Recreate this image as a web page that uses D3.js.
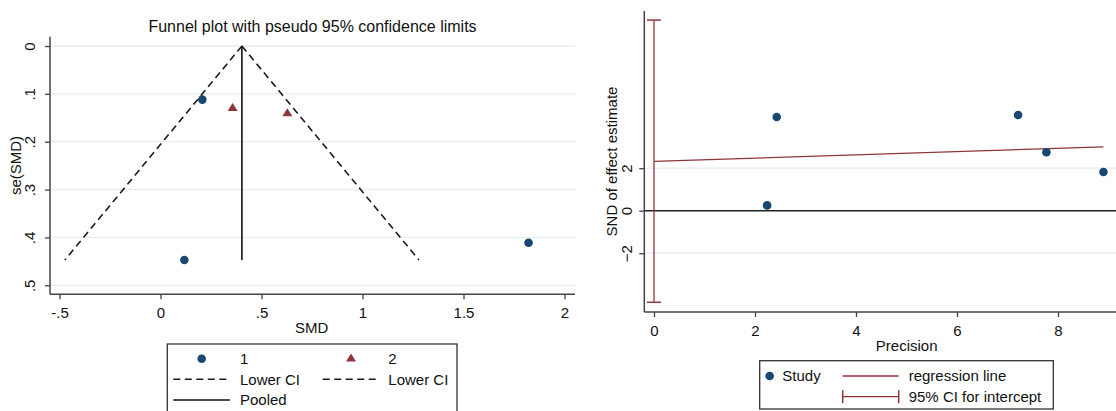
<!DOCTYPE html>
<html>
<head>
<meta charset="utf-8">
<script src="https://cdn.jsdelivr.net/npm/d3@7"></script>
<style>
  body { margin: 0; background: #fff; }
  svg text { font-family: "Liberation Sans", Arial, sans-serif; fill: #111; }
</style>
</head>
<body>
<div id="chart"></div>
<script>
// funnel plot data
const studyGroup = [1, 1, 1, 2, 2];
const studySMD = [0.207, 0.118, 1.822, 0.357, 0.628];
const studySE = [0.112, 0.447, 0.411, 0.130, 0.141];
const pooledSMD = 0.403;
const seMax = 0.447;

// egger plot data
const precision = [2.43, 2.24, 7.21, 7.77, 8.90];
const sndEffect = [4.41, 0.25, 4.50, 2.75, 1.82];
const regIntercept = 2.32;
const regSlope = 0.077;
const ciIntercept = [-4.31, 8.97];

// tick labels
const smdTicks = [-0.5, 0, 0.5, 1, 1.5, 2];
const smdLabels = ["-.5", "0", ".5", "1", "1.5", "2"];
const seTicks = [0, 0.1, 0.2, 0.3, 0.4, 0.5];
const seLabels = ["0", ".1", ".2", ".3", ".4", ".5"];
const precTicks = [0, 2, 4, 6, 8];
const sndTicks = [-2, 0, 2];

const navy = "#1a476f", maroon = "#90353b", grid = "#e3ecee", axisCol = "#444";

const W = 1116, H = 411;
const svg = d3.select("#chart").append("svg").attr("width", W).attr("height", H);

const tri = "M0,-5.3L5,2.7L-5,2.7Z";
const dash = "7,4.5";

/* ---------------- left: funnel plot ---------------- */
const L = { left: 50, right: 575, top: 36.7, bottom: 294.3 };
const x1 = d3.scaleLinear().domain([-0.5, 2]).range([59.5, 564.5]);
const y1 = d3.scaleLinear().domain([0, 0.5]).range([46, 285.3]);

const g1 = svg.append("g");

g1.selectAll(".grid").data(seTicks).join("line")
  .attr("x1", L.left).attr("x2", L.right)
  .attr("y1", d => y1(d)).attr("y2", d => y1(d))
  .attr("stroke", grid).attr("stroke-width", 1.3);

// pseudo 95% limits
const funnelL = [[pooledSMD, 0], [pooledSMD - 1.96 * seMax, seMax]];
const funnelR = [[pooledSMD, 0], [pooledSMD + 1.96 * seMax, seMax]];
const ln1 = d3.line().x(d => x1(d[0])).y(d => y1(d[1]));
[funnelL, funnelR].forEach(f => {
  g1.append("path").attr("d", ln1(f)).attr("fill", "none")
    .attr("stroke", "#1a1a1a").attr("stroke-width", 1.6).attr("stroke-dasharray", dash);
});
g1.append("path").attr("d", ln1([[pooledSMD, 0], [pooledSMD, seMax]]))
  .attr("stroke", "#111").attr("stroke-width", 1.6);

// markers
studySMD.forEach((v, i) => {
  if (studyGroup[i] === 1) {
    g1.append("circle").attr("cx", x1(v)).attr("cy", y1(studySE[i])).attr("r", 4.3).attr("fill", navy);
  } else {
    g1.append("path").attr("d", tri)
      .attr("transform", `translate(${x1(v)},${y1(studySE[i])})`).attr("fill", maroon);
  }
});

// axes
const ax1 = g1.append("g").attr("transform", `translate(0,${L.bottom})`)
  .call(d3.axisBottom(x1).tickValues(smdTicks).tickFormat((d, i) => smdLabels[i])
    .tickSize(5).tickSizeOuter(0).tickPadding(8.4));
const ay1 = g1.append("g").attr("transform", `translate(${L.left},0)`)
  .call(d3.axisLeft(y1).tickValues(seTicks).tickFormat((d, i) => seLabels[i])
    .tickSize(5).tickSizeOuter(0));
ay1.selectAll("text").attr("x", 0).attr("dy", 0).attr("text-anchor", "middle")
  .attr("transform", "translate(-15.5,0) rotate(-90)");
g1.append("line").attr("x1", L.left).attr("x2", L.right).attr("y1", L.bottom).attr("y2", L.bottom)
  .attr("stroke", axisCol).attr("stroke-width", 1.5);
g1.append("line").attr("x1", L.left).attr("x2", L.left).attr("y1", L.top).attr("y2", L.bottom)
  .attr("stroke", axisCol).attr("stroke-width", 1.5);

g1.append("text").attr("x", 312.5).attr("y", 31.5).attr("text-anchor", "middle")
  .style("font-size", "16px").text("Funnel plot with pseudo 95% confidence limits");
g1.append("text").attr("x", 311.7).attr("y", 333.3).attr("text-anchor", "middle")
  .style("font-size", "15px").text("SMD");
g1.append("text").attr("transform", `translate(21,${(L.top + L.bottom) / 2}) rotate(-90)`)
  .attr("text-anchor", "middle").style("font-size", "15px").text("se(SMD)");

// legend
const lg1 = g1.append("g");
lg1.append("rect").attr("x", 167.3).attr("y", 344).attr("width", 289.7).attr("height", 80)
  .attr("fill", "#fff").attr("stroke", "#333").attr("stroke-width", 1.3);
lg1.append("circle").attr("cx", 201.7).attr("cy", 358.7).attr("r", 4.3).attr("fill", navy);
lg1.append("path").attr("d", tri).attr("transform", "translate(351,358.7)").attr("fill", maroon);
lg1.append("line").attr("x1", 173.3).attr("x2", 230).attr("y1", 379.3).attr("y2", 379.3)
  .attr("stroke", "#1a1a1a").attr("stroke-width", 1.5).attr("stroke-dasharray", dash);
lg1.append("line").attr("x1", 322.7).attr("x2", 379.3).attr("y1", 379.3).attr("y2", 379.3)
  .attr("stroke", "#1a1a1a").attr("stroke-width", 1.5).attr("stroke-dasharray", dash);
lg1.append("line").attr("x1", 173.3).attr("x2", 230).attr("y1", 400).attr("y2", 400)
  .attr("stroke", "#111").attr("stroke-width", 1.5);
[["1", 240, 364], ["2", 388.3, 364], ["Lower CI", 240, 384.6], ["Lower CI", 388.3, 384.6], ["Pooled", 240, 405.3]]
  .forEach(t => lg1.append("text").attr("x", t[1]).attr("y", t[2]).style("font-size", "15px").text(t[0]));

/* ---------------- right: egger plot ---------------- */
const R = { left: 644.3, right: 1116, top: 11, bottom: 312 };
const x2 = d3.scaleLinear().domain([0, 8]).range([654, 1058]);
const y2 = d3.scaleLinear().domain([-2, 2]).range([253.2, 168.2]);

const g2 = svg.append("g");

g2.selectAll(".grid").data(sndTicks.filter(d => d !== 0)).join("line")
  .attr("x1", R.left).attr("x2", R.right)
  .attr("y1", d => y2(d)).attr("y2", d => y2(d))
  .attr("stroke", grid).attr("stroke-width", 1.3);

g2.append("line").attr("x1", R.left).attr("x2", R.right).attr("y1", y2(0)).attr("y2", y2(0))
  .attr("stroke", "#222").attr("stroke-width", 1.6);

// regression line
const pMax = d3.max(precision);
g2.append("line").attr("x1", x2(0)).attr("x2", x2(pMax))
  .attr("y1", y2(regIntercept)).attr("y2", y2(regIntercept + regSlope * pMax))
  .attr("stroke", maroon).attr("stroke-width", 1.3);

// CI for intercept
g2.append("line").attr("x1", x2(0)).attr("x2", x2(0))
  .attr("y1", y2(ciIntercept[0])).attr("y2", y2(ciIntercept[1]))
  .attr("stroke", maroon).attr("stroke-width", 1.3);
ciIntercept.forEach(c => {
  g2.append("line").attr("x1", x2(0) - 7).attr("x2", x2(0) + 7)
    .attr("y1", y2(c)).attr("y2", y2(c)).attr("stroke", maroon).attr("stroke-width", 1.5);
});

g2.selectAll(".pt").data(precision).join("circle")
  .attr("cx", d => x2(d)).attr("cy", (d, i) => y2(sndEffect[i])).attr("r", 4.3).attr("fill", navy);

const ax2 = g2.append("g").attr("transform", `translate(0,${R.bottom})`)
  .call(d3.axisBottom(x2).tickValues(precTicks).tickFormat(d3.format("d"))
    .tickSize(5).tickSizeOuter(0).tickPadding(8.4));
const ay2 = g2.append("g").attr("transform", `translate(${R.left},0)`)
  .call(d3.axisLeft(y2).tickValues(sndTicks).tickFormat(d3.format("d"))
    .tickSize(5).tickSizeOuter(0));
ay2.selectAll("text").attr("x", 0).attr("dy", 0).attr("text-anchor", "middle")
  .attr("transform", "translate(-12,0) rotate(-90)");
g2.append("line").attr("x1", R.left).attr("x2", R.right).attr("y1", R.bottom).attr("y2", R.bottom)
  .attr("stroke", axisCol).attr("stroke-width", 1.5);
g2.append("line").attr("x1", R.left).attr("x2", R.left).attr("y1", R.top).attr("y2", R.bottom)
  .attr("stroke", axisCol).attr("stroke-width", 1.5);

g2.append("text").attr("x", 906.7).attr("y", 350.7).attr("text-anchor", "middle")
  .style("font-size", "15px").text("Precision");
g2.append("text").attr("transform", `translate(616.5,${(R.top + R.bottom) / 2}) rotate(-90)`)
  .attr("text-anchor", "middle").style("font-size", "15px").text("SND of effect estimate");

// legend
const lg2 = g2.append("g");
lg2.append("rect").attr("x", 759.7).attr("y", 360.7).attr("width", 293.6).attr("height", 48.3)
  .attr("fill", "#fff").attr("stroke", "#333").attr("stroke-width", 1.3);
lg2.append("circle").attr("cx", 769.7).attr("cy", 376).attr("r", 4.3).attr("fill", navy);
lg2.append("line").attr("x1", 842.7).attr("x2", 898.7).attr("y1", 376).attr("y2", 376)
  .attr("stroke", maroon).attr("stroke-width", 1.3);
lg2.append("line").attr("x1", 842.7).attr("x2", 898.7).attr("y1", 396.7).attr("y2", 396.7)
  .attr("stroke", maroon).attr("stroke-width", 1.3);
[842.7, 898.7].forEach(x => lg2.append("line").attr("x1", x).attr("x2", x)
  .attr("y1", 390.2).attr("y2", 403.2).attr("stroke", maroon).attr("stroke-width", 1.5));
[["Study", 782.3, 381.3], ["regression line", 908.7, 381.3], ["95% CI for intercept", 908.7, 402]]
  .forEach(t => lg2.append("text").attr("x", t[1]).attr("y", t[2]).style("font-size", "15px").text(t[0]));

// style axis pieces
svg.selectAll(".domain").remove();
svg.selectAll(".tick line").attr("stroke", axisCol).attr("stroke-width", 1.3);
svg.selectAll(".tick text").style("font-size", "15px").attr("fill", "#111");
</script>
</body>
</html>
